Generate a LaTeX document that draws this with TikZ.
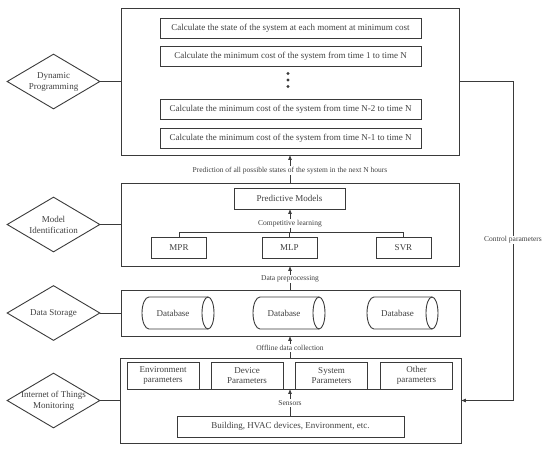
\documentclass[tikz,border=0pt]{standalone}
\usepackage{fontspec}
\setmainfont{Liberation Serif}
\usetikzlibrary{arrows.meta,shapes.geometric,calc}
\definecolor{lc}{HTML}{3A3A3A}
\definecolor{tc}{HTML}{404040}
\tikzset{
  ln/.style={draw=lc, line width=0.9pt},
  arr/.style={draw=lc, line width=0.9pt, -{Triangle[length=4.5pt,width=3.5pt]}},
  bigbox/.style={draw=lc, line width=0.9pt, rectangle, inner sep=0pt},
  sbox/.style={draw=lc, line width=0.9pt, rectangle, inner sep=0pt, align=center, text=tc, font=\fontsize{9}{10.5}\selectfont},
  lbl/.style={fill=white, inner sep=1pt, text=tc, font=\fontsize{7.5}{9}\selectfont},
  diam/.style={diamond, draw=lc, line width=0.9pt, minimum width=93pt, minimum height=55pt, inner sep=-2pt, aspect=1.69, align=center, text=tc, font=\fontsize{9}{11}\selectfont},
  dbtext/.style={inner sep=0pt, text=tc, font=\fontsize{9}{10.5}\selectfont},
  cyl/.style={draw=lc, line width=0.9pt}
}
\begin{document}
\begin{tikzpicture}[x=1pt,y=-1pt]
\useasboundingbox (0,0) rectangle (550,451);

% ---------- Dynamic programming ----------
\node[bigbox, minimum width=338pt, minimum height=147pt] (dpb) at (290,81.5) {};
\node[sbox, minimum width=261pt, minimum height=20pt] (c1) at (290.5,28) {Calculate the state of the system at each moment at minimum cost};
\node[sbox, minimum width=261pt, minimum height=20pt] (c2) at (290.5,56.5) {Calculate the minimum cost of the system from time 1 to time N};
\node[sbox, minimum width=261pt, minimum height=20pt] (c3) at (290.5,109) {Calculate the minimum cost of the system from time N-2 to time N};
\node[sbox, minimum width=261pt, minimum height=20pt] (c4) at (290.5,138) {Calculate the minimum cost of the system from time N-1 to time N};
\fill[lc] (288,73.5) circle[radius=1.6pt];
\fill[lc] (288,80) circle[radius=1.6pt];
\fill[lc] (288,86.5) circle[radius=1.6pt];
\node[diam] (dpd) at (53.5,81.5) {Dynamic\\Programming};
\draw[ln] (dpd.east) -- (dpb.west);

% ---------- Model identification ----------
\node[bigbox, minimum width=338pt, minimum height=83pt] (mib) at (290,224.5) {};
\node[sbox, minimum width=111pt, minimum height=21pt] (pm) at (289.5,198.5) {Predictive Models};
\node[sbox, minimum width=55pt, minimum height=21pt] (mpr) at (179,247.5) {MPR};
\node[sbox, minimum width=55pt, minimum height=21pt] (mlp) at (289.5,247.5) {MLP};
\node[sbox, minimum width=55pt, minimum height=21pt] (svr) at (403.5,247.5) {SVR};
\coordinate (cl) at (290,232);
\draw[ln] (mpr.north) -- (mpr.north |- cl) -- (svr.north |- cl) -- (svr.north);
\draw[ln] (mlp.north) -- (mlp.north |- cl);
\draw[arr] (cl) -- (cl |- pm.south);
\node[lbl] (cll) at (290,223.5) {Competitive learning};
\node[diam] (mid) at (53.5,224.5) {Model\\Identification};
\draw[ln] (mid.east) -- (mib.west);

\draw[arr] (mib.north) -- (mib.north |- dpb.south);
\node[lbl] (predl) at (290,170.5) {Prediction of all possible states of the system in the next N hours};

% ---------- Data storage ----------
\node[bigbox, minimum width=339pt, minimum height=46pt] (dsb) at (290.5,313) {};
\node[dbtext] (db1) at (173,313) {Database};
\node[dbtext] (db2) at (284,313) {Database};
\node[dbtext] (db3) at (397.5,313) {Database};
\foreach \l/\r in {142/214, 253/325, 367/438}{
  \draw[cyl] (\r-6,297) -- (\l+7,297) arc[start angle=90, end angle=270, x radius=7pt, y radius=16pt] -- (\r-6,329);
  \draw[cyl] (\r-6,313) ellipse[x radius=6pt, y radius=16pt];
}
\node[diam] (dsd) at (53.5,313) {Data Storage};
\draw[ln] (dsd.east) -- (dsb.west);

\draw[arr] (dsb.north -| mib.south) -- (mib.south);
\node[lbl] (dpl) at (290,279) {Data preprocessing};

% ---------- IoT monitoring ----------
\node[bigbox, minimum width=341pt, minimum height=85pt] (iotb) at (290.5,400.5) {};
\node[sbox, minimum width=72pt, minimum height=27pt] (env) at (163,375.5) {Environment\\parameters};
\node[sbox, minimum width=72pt, minimum height=27pt] (dev) at (247,375.5) {Device\\Parameters};
\node[sbox, minimum width=72pt, minimum height=27pt] (sys) at (331.5,375.5) {System\\Parameters};
\node[sbox, minimum width=72pt, minimum height=27pt] (oth) at (416.5,375.5) {Other\\parameters};
\draw[ln] (env.south east) -- (dev.south west);
\draw[ln] (dev.south east) -- (sys.south west);
\draw[ln] (sys.south east) -- (oth.south west);
\node[sbox, minimum width=227pt, minimum height=21pt] (bld) at (290.5,426.5) {Building, HVAC devices, Environment, etc.};
\coordinate (sx) at (290,0);
\draw[arr] (sx |- bld.north) -- (sx |- env.south);
\node[lbl] (sl) at (290,403) {Sensors};
\node[diam] (iotd) at (53.5,400.5) {Internet of Things\\Monitoring};
\draw[ln] (iotd.east) -- (iotb.west);

\draw[arr] (sx |- iotb.north) -- (sx |- dsb.south);
\node[lbl] (odl) at (290,348) {Offline data collection};

% ---------- Control parameters ----------
\coordinate (cp) at (513,0);
\draw[arr] (dpb.east) -- (dpb.east -| cp) -- (cp |- iotb.east) -- (iotb.east);
\node[lbl] (cpl) at (513,240) {Control parameters};
\end{tikzpicture}
\end{document}
